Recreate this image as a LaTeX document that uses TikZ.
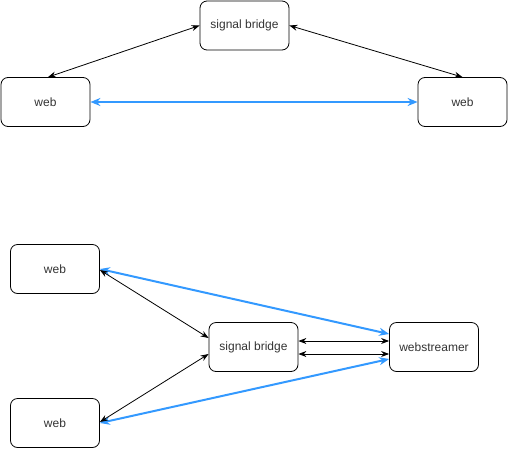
\documentclass[tikz,border=0pt]{standalone}
\usepackage{fontspec}
\setmainfont{Liberation Sans}
\usetikzlibrary{arrows.meta}
\definecolor{linkblue}{HTML}{3399FF}
\definecolor{txt}{HTML}{333333}
\begin{document}
\begin{tikzpicture}[x=1pt,y=-1pt,
  box/.style={draw=black, line width=0.8pt, rounded corners=7pt, minimum width=89pt, minimum height=49pt, inner sep=0pt, font=\fontsize{12}{14}\selectfont, text=txt},
  blk/.style={line width=0.8pt, {Stealth[length=8pt,width=6pt]}-{Stealth[length=8pt,width=6pt]}},
  blu/.style={draw=linkblue, line width=2pt, {Stealth[length=10pt,width=8pt]}-{Stealth[length=10pt,width=8pt]}}]
\useasboundingbox (0,0) rectangle (508,450);
% top diagram
\node[box] (sbT) at (244.5,25.5) {signal bridge};
\node[box] (webL) at (45.5,102) {web};
\node[box] (webR) at (462.5,102) {web};
\draw[blu] (webL.east) -- (webR.west);
\draw[blk] ([xshift=2.5pt]webL.north) -- (sbT.west);
\draw[blk] (sbT.east) -- (webR.north);
% bottom diagram
\node[box] (webA) at (55,269) {web};
\node[box] (webB) at (55,423) {web};
\node[box] (sbB) at (253.5,347) {signal bridge};
\node[box] (ws) at (434,347) {webstreamer};
\draw[blu] (webA.east) -- ([yshift=13pt]ws.west);
\draw[blu] (webB.east) -- ([yshift=-12pt]ws.west);
\draw[blk] ([yshift=-1pt]webA.east) -- ([yshift=9pt]sbB.west);
\draw[blk] ([yshift=1pt]webB.east) -- ([yshift=-7pt]sbB.west);
\draw[blk] ([yshift=6pt]sbB.east) -- ([yshift=6pt]ws.west);
\draw[blk] ([yshift=-7pt]sbB.east) -- ([yshift=-7pt]ws.west);
\end{tikzpicture}
\end{document}
